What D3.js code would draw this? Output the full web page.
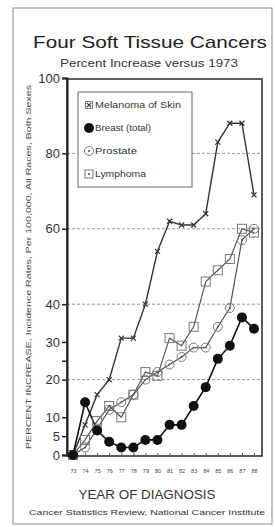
<!DOCTYPE html>
<html><head><meta charset="utf-8">
<script src="https://cdn.jsdelivr.net/npm/d3@7"></script>
<style>
html,body{margin:0;padding:0;background:#fff;}
svg{display:block;font-family:"Liberation Sans",Arial,sans-serif;}
</style></head>
<body>
<svg id="c" width="275" height="527"></svg>
<script>
const years = [73,74,75,76,77,78,79,80,81,82,83,84,85,86,87,88];
const yearLabels = ["73","74","75","76","77","78","79","80","81","82","83","84","85","86","87","88"];
const melanoma = [0, 8, 16, 20, 31, 31, 40, 54, 62, 61, 61, 64, 83, 88, 88, 69];
const breast   = [0, 14, 6.5, 3.5, 2, 2, 4, 4, 8, 8, 13, 18, 25.5, 29, 36.5, 33.5];
const prostate = [0, 2, 7, 12, 14, 16, 20, 22, 24, 26, 28.5, 28.5, 34, 39, 57, 60];
const lymphoma = [0, 4, 9, 13, 10, 16, 22, 21, 31, 29, 34, 46, 49, 52, 60, 59];
const yTicks = [0,5,10,20,25,30,40,60,80,100];
const yTickLabels = ["0","5","10","20","","30","40","60","80","100"];
const gridValues = [20,40,60,80];
const seriesNames = ["Melanoma of Skin","Breast (total)","Prostate","Lymphoma"];

const svg = d3.select("#c");
const x = d3.scaleLinear().domain([73,88]).range([73,254]);
const y = d3.scaleLinear().domain([0,100]).range([455,78]);

// outer frame
svg.append("rect").attr("x",13).attr("y",8).attr("width",259).attr("height",516)
  .attr("fill","none").attr("stroke","#888").attr("stroke-width",1);

// titles
svg.append("text").attr("x",150).attr("y",48).attr("text-anchor","middle")
  .attr("font-size",17).attr("fill","#222").attr("textLength",234).attr("lengthAdjust","spacingAndGlyphs")
  .text("Four Soft Tissue Cancers");
svg.append("text").attr("x",149).attr("y",67).attr("text-anchor","middle")
  .attr("font-size",10).attr("fill","#333").attr("textLength",178).attr("lengthAdjust","spacingAndGlyphs")
  .text("Percent Increase versus 1973");

// gridlines
svg.append("g").selectAll("line").data(gridValues).join("line")
  .attr("x1",67).attr("x2",262).attr("y1",d=>y(d)).attr("y2",d=>y(d))
  .attr("stroke","#999").attr("stroke-width",1).attr("stroke-dasharray","3,2");

// plot frame
svg.append("rect").attr("x",67).attr("y",79).attr("width",195).attr("height",377)
  .attr("fill","none").attr("stroke","#333").attr("stroke-width",1.6);

// y axis
const yAxis = d3.axisLeft(y).tickValues(yTicks).tickSize(5).tickFormat((d,i)=>yTickLabels[i]);
const ya = svg.append("g").attr("transform","translate(67,0)").call(yAxis);
ya.select(".domain").attr("stroke","#222").attr("stroke-width",2);
ya.selectAll(".tick line").attr("stroke","#222").attr("stroke-width",1.5);
ya.selectAll(".tick text").attr("font-size",13).attr("fill","#333").attr("x",-7)
  .attr("font-family","Liberation Sans, Arial, sans-serif");

// x axis (ticks inside)
const xAxis = d3.axisBottom(x).tickValues(years).tickSize(-3).tickFormat((d,i)=>yearLabels[i]);
const xa = svg.append("g").attr("transform","translate(0,456)").call(xAxis);
xa.select(".domain").remove();
xa.selectAll(".tick line").attr("stroke","#555");
xa.selectAll(".tick text").attr("font-size",5.5).attr("fill","#444").attr("y",13)
  .attr("font-family","Liberation Sans Narrow, Arial, sans-serif");

// y label
svg.append("text").attr("transform","translate(31,267) rotate(-90)").attr("text-anchor","middle")
  .attr("font-size",7.5).attr("fill","#444").attr("textLength",364).attr("lengthAdjust","spacingAndGlyphs")
  .text("PERCENT INCREASE, Incidence Rates, Per 100,000, All Races, Both Sexes");

// x label & source
svg.append("text").attr("x",147).attr("y",499).attr("text-anchor","middle")
  .attr("font-size",12).attr("fill","#333").attr("textLength",137).attr("lengthAdjust","spacingAndGlyphs")
  .text("YEAR OF DIAGNOSIS");
svg.append("text").attr("x",147).attr("y",515).attr("text-anchor","middle")
  .attr("font-size",7.5).attr("fill","#333").attr("textLength",236).attr("lengthAdjust","spacingAndGlyphs")
  .text("Cancer Statistics Review, National Cancer Institute");

const line = d3.line().x((d,i)=>x(years[i])).y(d=>y(d));

function drawLine(vals,color,w){
  svg.append("path").datum(vals).attr("d",line).attr("fill","none")
    .attr("stroke",color).attr("stroke-width",w);
}
drawLine(prostate,"#555",1.2);
drawLine(lymphoma,"#555",1.2);
drawLine(melanoma,"#333",1.4);
drawLine(breast,"#111",1.6);

// markers
function xMark(g,cx,cy,s){
  g.append("path").attr("d",`M${cx-s},${cy-s}L${cx+s},${cy+s}M${cx-s},${cy+s}L${cx+s},${cy-s}`)
    .attr("stroke","#333").attr("stroke-width",1.2);
}
const gm = svg.append("g");
melanoma.forEach((v,i)=>xMark(gm,x(years[i]),y(v),2.5));
svg.append("g").selectAll("rect").data(lymphoma).join("rect")
  .attr("x",(d,i)=>x(years[i])-4.5).attr("y",d=>y(d)-4.5).attr("width",9).attr("height",9)
  .attr("fill","none").attr("stroke","#777").attr("stroke-width",1);
const gp = svg.append("g");
gp.selectAll("circle.o").data(prostate).join("circle").attr("class","o")
  .attr("cx",(d,i)=>x(years[i])).attr("cy",d=>y(d)).attr("r",4.5)
  .attr("fill","none").attr("stroke","#777").attr("stroke-width",1);
gp.selectAll("circle.d").data(prostate).join("circle").attr("class","d")
  .attr("cx",(d,i)=>x(years[i])).attr("cy",d=>y(d)).attr("r",0.9).attr("fill","#555");
svg.append("g").selectAll("circle").data(breast).join("circle")
  .attr("cx",(d,i)=>x(years[i])).attr("cy",d=>y(d)).attr("r",5).attr("fill","#111");

// legend
const lg = svg.append("g");
lg.append("rect").attr("x",78).attr("y",92).attr("width",114).attr("height",95)
  .attr("fill","#fff").attr("stroke","#666").attr("stroke-width",1);
const ly = [105,128,151,174];
// markers in legend
lg.append("rect").attr("x",85.5).attr("y",101.5).attr("width",7).attr("height",7).attr("fill","none").attr("stroke","#777");
xMark(lg,89,105,2.2);
lg.append("circle").attr("cx",89).attr("cy",128).attr("r",5).attr("fill","#111");
lg.append("circle").attr("cx",89).attr("cy",151).attr("r",4.5).attr("fill","none").attr("stroke","#777");
lg.append("circle").attr("cx",89).attr("cy",151).attr("r",1).attr("fill","#555");
lg.append("rect").attr("x",85).attr("y",170).attr("width",8).attr("height",8).attr("fill","none").attr("stroke","#777");
lg.append("rect").attr("x",88).attr("y",173).attr("width",2).attr("height",2).attr("fill","#777");
const lw = [86,56,42,51];
lg.selectAll("text").data(seriesNames).join("text")
  .attr("x",95).attr("y",(d,i)=>ly[i]+3).attr("font-size",9).attr("fill","#333")
  .attr("textLength",(d,i)=>lw[i]).attr("lengthAdjust","spacingAndGlyphs")
  .text(d=>d);
</script>
</body></html>
